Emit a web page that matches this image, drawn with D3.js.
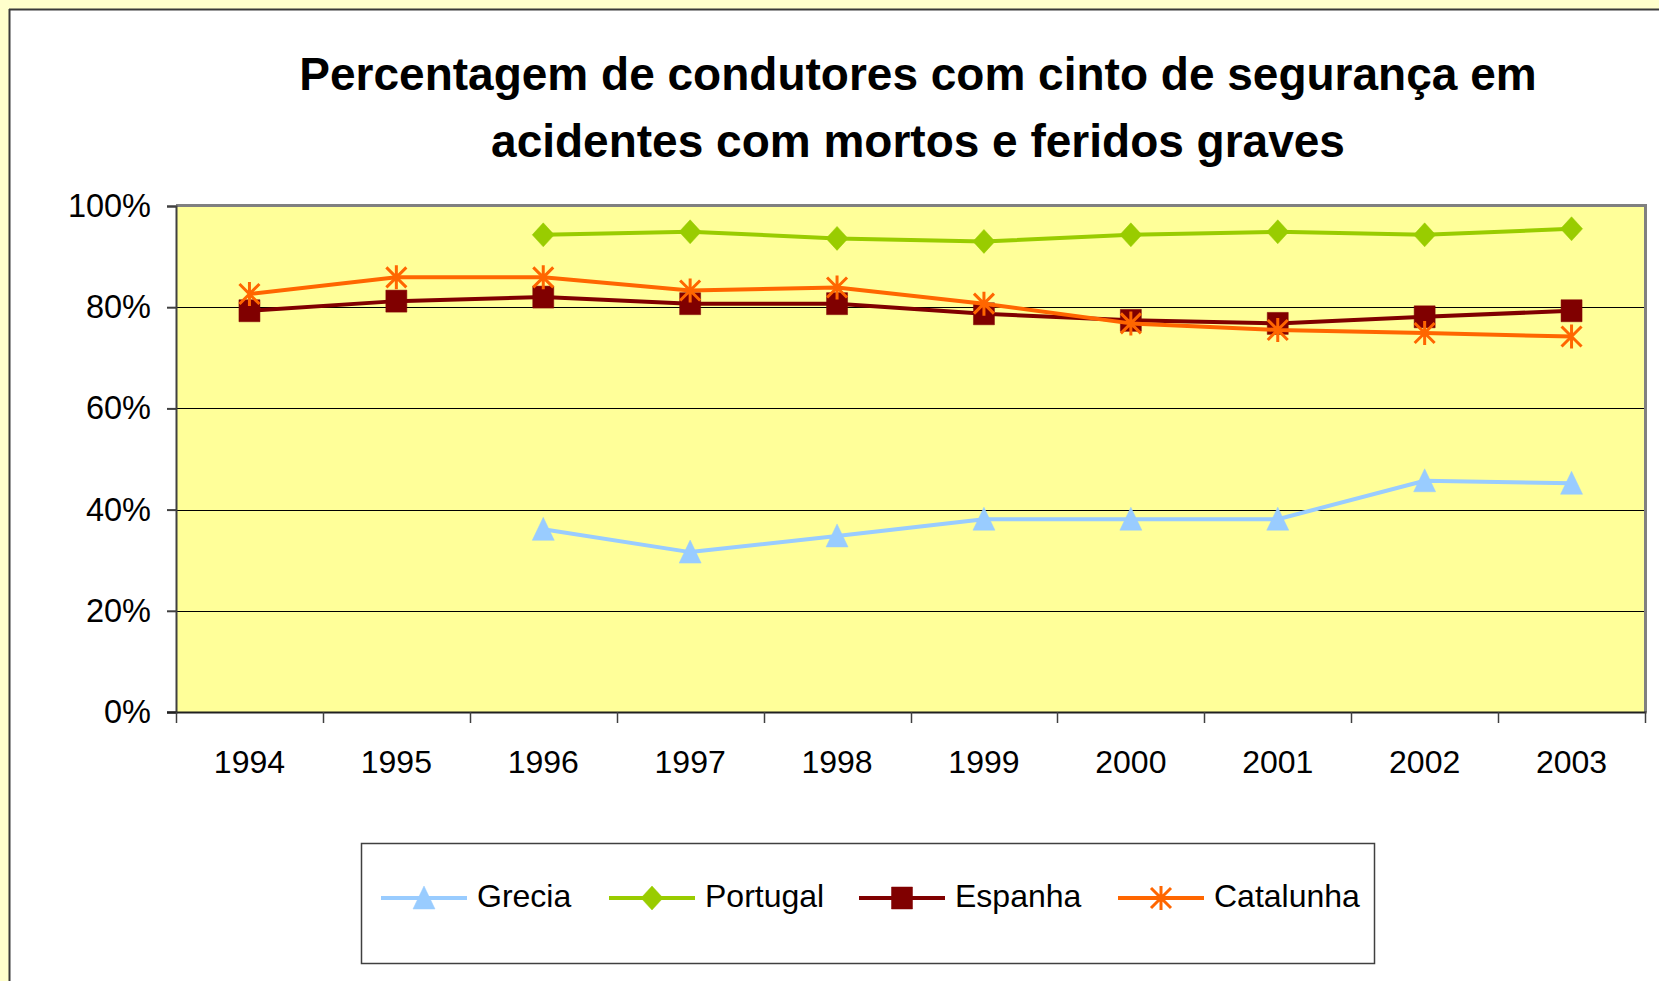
<!DOCTYPE html>
<html>
<head>
<meta charset="utf-8">
<script src="https://cdn.jsdelivr.net/npm/d3@7"></script>
<style>
  html, body { margin: 0; padding: 0; background: #ffffff; }
  svg { display: block; }
  text { font-family: "Liberation Sans", Arial, sans-serif; }
</style>
</head>
<body>
<svg id="chart" width="1659" height="981"></svg>
<script>
// ---- data ----
const years = ["1994","1995","1996","1997","1998","1999","2000","2001","2002","2003"];
const grecia    = [null, null, 36.1, 31.6, 34.8, 38.1, 38.1, 38.1, 45.7, 45.2];
const portugal  = [null, null, 94.3, 94.9, 93.6, 93.0, 94.3, 94.9, 94.3, 95.5];
const espanha   = [79.3, 81.2, 82.0, 80.7, 80.7, 78.7, 77.4, 76.8, 78.1, 79.3];
const catalunha = [82.6, 85.9, 85.9, 83.3, 83.9, 80.7, 76.8, 75.5, 74.9, 74.2];
const yTicks = [0, 20, 40, 60, 80, 100];
const titleLines = ["Percentagem de condutores com cinto de segurança em", "acidentes com mortos e feridos graves"];
const seriesNames = ["Grecia", "Portugal", "Espanha", "Catalunha"];

const series = [
  { name: seriesNames[0], values: grecia,    color: "#99CCFF", marker: "triangle" },
  { name: seriesNames[1], values: portugal,  color: "#99CC00", marker: "diamond" },
  { name: seriesNames[2], values: espanha,   color: "#800000", marker: "square" },
  { name: seriesNames[3], values: catalunha, color: "#FF6600", marker: "star" }
];

const svg = d3.select("#chart");
const W = 1659, H = 981;

// outer frame
svg.append("rect").attr("x", 0).attr("y", 0).attr("width", W).attr("height", H).attr("fill", "#FFFFCC");
svg.append("rect").attr("x", 10).attr("y", 10).attr("width", W - 10).attr("height", H - 10).attr("fill", "#ffffff");
svg.append("line").attr("x1", 9.5).attr("x2", 9.5).attr("y1", 9).attr("y2", H).attr("stroke", "#3a3a3a").attr("stroke-width", 2);
svg.append("line").attr("x1", 9).attr("x2", W).attr("y1", 9.5).attr("y2", 9.5).attr("stroke", "#3a3a3a").attr("stroke-width", 2);

// plot area
const plot = { left: 176, right: 1645, top: 206, bottom: 712 };
const x = d3.scaleBand().domain(years).range([plot.left, plot.right]).padding(0);
const y = d3.scaleLinear().domain([0, 100]).range([plot.bottom, plot.top]);

svg.append("rect")
  .attr("x", plot.left).attr("y", plot.top)
  .attr("width", plot.right - plot.left).attr("height", plot.bottom - plot.top)
  .attr("fill", "#FFFF99");

// gridlines
svg.append("g").selectAll("line")
  .data(yTicks.filter(t => t > 0 && t < 100))
  .join("line")
  .attr("x1", plot.left).attr("x2", plot.right)
  .attr("y1", d => Math.round(y(d)) + 0.5).attr("y2", d => Math.round(y(d)) + 0.5)
  .attr("stroke", "#000000").attr("stroke-width", 1);

// plot border top and right (gray)
svg.append("line").attr("x1", plot.left).attr("x2", plot.right + 1.5)
  .attr("y1", plot.top - 0.5).attr("y2", plot.top - 0.5)
  .attr("stroke", "#808080").attr("stroke-width", 3);
svg.append("line").attr("x1", plot.right + 0.5).attr("x2", plot.right + 0.5)
  .attr("y1", plot.top - 2).attr("y2", plot.bottom)
  .attr("stroke", "#808080").attr("stroke-width", 3);

// y axis
const yAxis = d3.axisLeft(y).tickValues(yTicks).tickFormat(d => d + "%").tickSize(9).tickPadding(16);
const gy = svg.append("g").attr("transform", `translate(${plot.left},0)`).call(yAxis);
gy.select(".domain").attr("stroke", "#404040").attr("stroke-width", 2);
gy.selectAll(".tick line").attr("stroke", "#404040").attr("stroke-width", 2);
gy.selectAll(".tick text").attr("font-size", 32.5).attr("fill", "#000").attr("font-family", "Liberation Sans, Arial, sans-serif");

// x axis: ticks at band boundaries
const xAxisLine = svg.append("g");
xAxisLine.append("line").attr("x1", plot.left - 9).attr("x2", plot.right + 1.5)
  .attr("y1", plot.bottom + 0.5).attr("y2", plot.bottom + 0.5)
  .attr("stroke", "#202020").attr("stroke-width", 2);
const bounds = years.map(d => x(d)).concat([x(years[years.length - 1]) + x.bandwidth()]);
xAxisLine.selectAll("line.tk").data(bounds).join("line").attr("class", "tk")
  .attr("x1", d => Math.round(d) + 0.5).attr("x2", d => Math.round(d) + 0.5)
  .attr("y1", plot.bottom).attr("y2", plot.bottom + 11)
  .attr("stroke", "#404040").attr("stroke-width", 1.5);
xAxisLine.selectAll("text").data(years).join("text")
  .attr("x", d => x(d) + x.bandwidth() / 2).attr("y", 773)
  .attr("text-anchor", "middle").attr("font-size", 32).attr("fill", "#000")
  .text(d => d);

// markers
function markerPath(type) {
  const p = d3.path();
  if (type === "triangle") {
    p.moveTo(0, -12); p.lineTo(11, 11); p.lineTo(-11, 11); p.closePath();
  } else if (type === "diamond") {
    p.moveTo(0, -12); p.lineTo(11, 0); p.lineTo(0, 12); p.lineTo(-11, 0); p.closePath();
  } else if (type === "square") {
    p.rect(-10.5, -11, 21, 22);
  } else if (type === "star") {
    p.moveTo(0, -12); p.lineTo(0, 12);
    p.moveTo(-10, -10); p.lineTo(10, 10);
    p.moveTo(10, -10); p.lineTo(-10, 10);
  }
  return p.toString();
}

const lineGen = d3.line()
  .defined(d => d.v !== null)
  .x(d => x(d.year) + x.bandwidth() / 2)
  .y(d => y(d.v));

series.forEach(s => {
  const pts = years.map((yr, i) => ({ year: yr, v: s.values[i] }));
  const g = svg.append("g");
  g.append("path").datum(pts).attr("d", lineGen)
    .attr("fill", "none").attr("stroke", s.color).attr("stroke-width", 4)
    .attr("stroke-linejoin", "round");
  g.selectAll("path.m").data(pts.filter(d => d.v !== null)).join("path").attr("class", "m")
    .attr("transform", d => `translate(${x(d.year) + x.bandwidth() / 2},${y(d.v)})`)
    .attr("d", markerPath(s.marker))
    .attr("fill", s.marker === "star" ? "none" : s.color)
    .attr("stroke", s.color)
    .attr("stroke-width", s.marker === "star" ? 3 : 0.5);
});

// title
const title = svg.append("g");
title.selectAll("text").data(titleLines).join("text")
  .attr("x", 918).attr("y", (d, i) => 90 + i * 67)
  .attr("text-anchor", "middle").attr("font-size", 46).attr("font-weight", "bold")
  .attr("fill", "#000").text(d => d);

// legend
const legend = svg.append("g");
legend.append("rect").attr("x", 361.5).attr("y", 843.5).attr("width", 1013).attr("height", 120)
  .attr("fill", "#ffffff").attr("stroke", "#404040").attr("stroke-width", 1.5);
const legendX = [381, 609, 859, 1118];
const legendY = 898;
series.forEach((s, i) => {
  const lx = legendX[i];
  const item = legend.append("g");
  item.append("line").attr("x1", lx).attr("x2", lx + 86).attr("y1", legendY).attr("y2", legendY)
    .attr("stroke", s.color).attr("stroke-width", 4);
  item.append("path").attr("transform", `translate(${lx + 43},${legendY})`)
    .attr("d", markerPath(s.marker))
    .attr("fill", s.marker === "star" ? "none" : s.color)
    .attr("stroke", s.color).attr("stroke-width", s.marker === "star" ? 3 : 0.5);
  item.append("text").attr("x", lx + 96).attr("y", 907)
    .attr("font-size", 32).attr("fill", "#000").text(s.name);
});
</script>
</body>
</html>
